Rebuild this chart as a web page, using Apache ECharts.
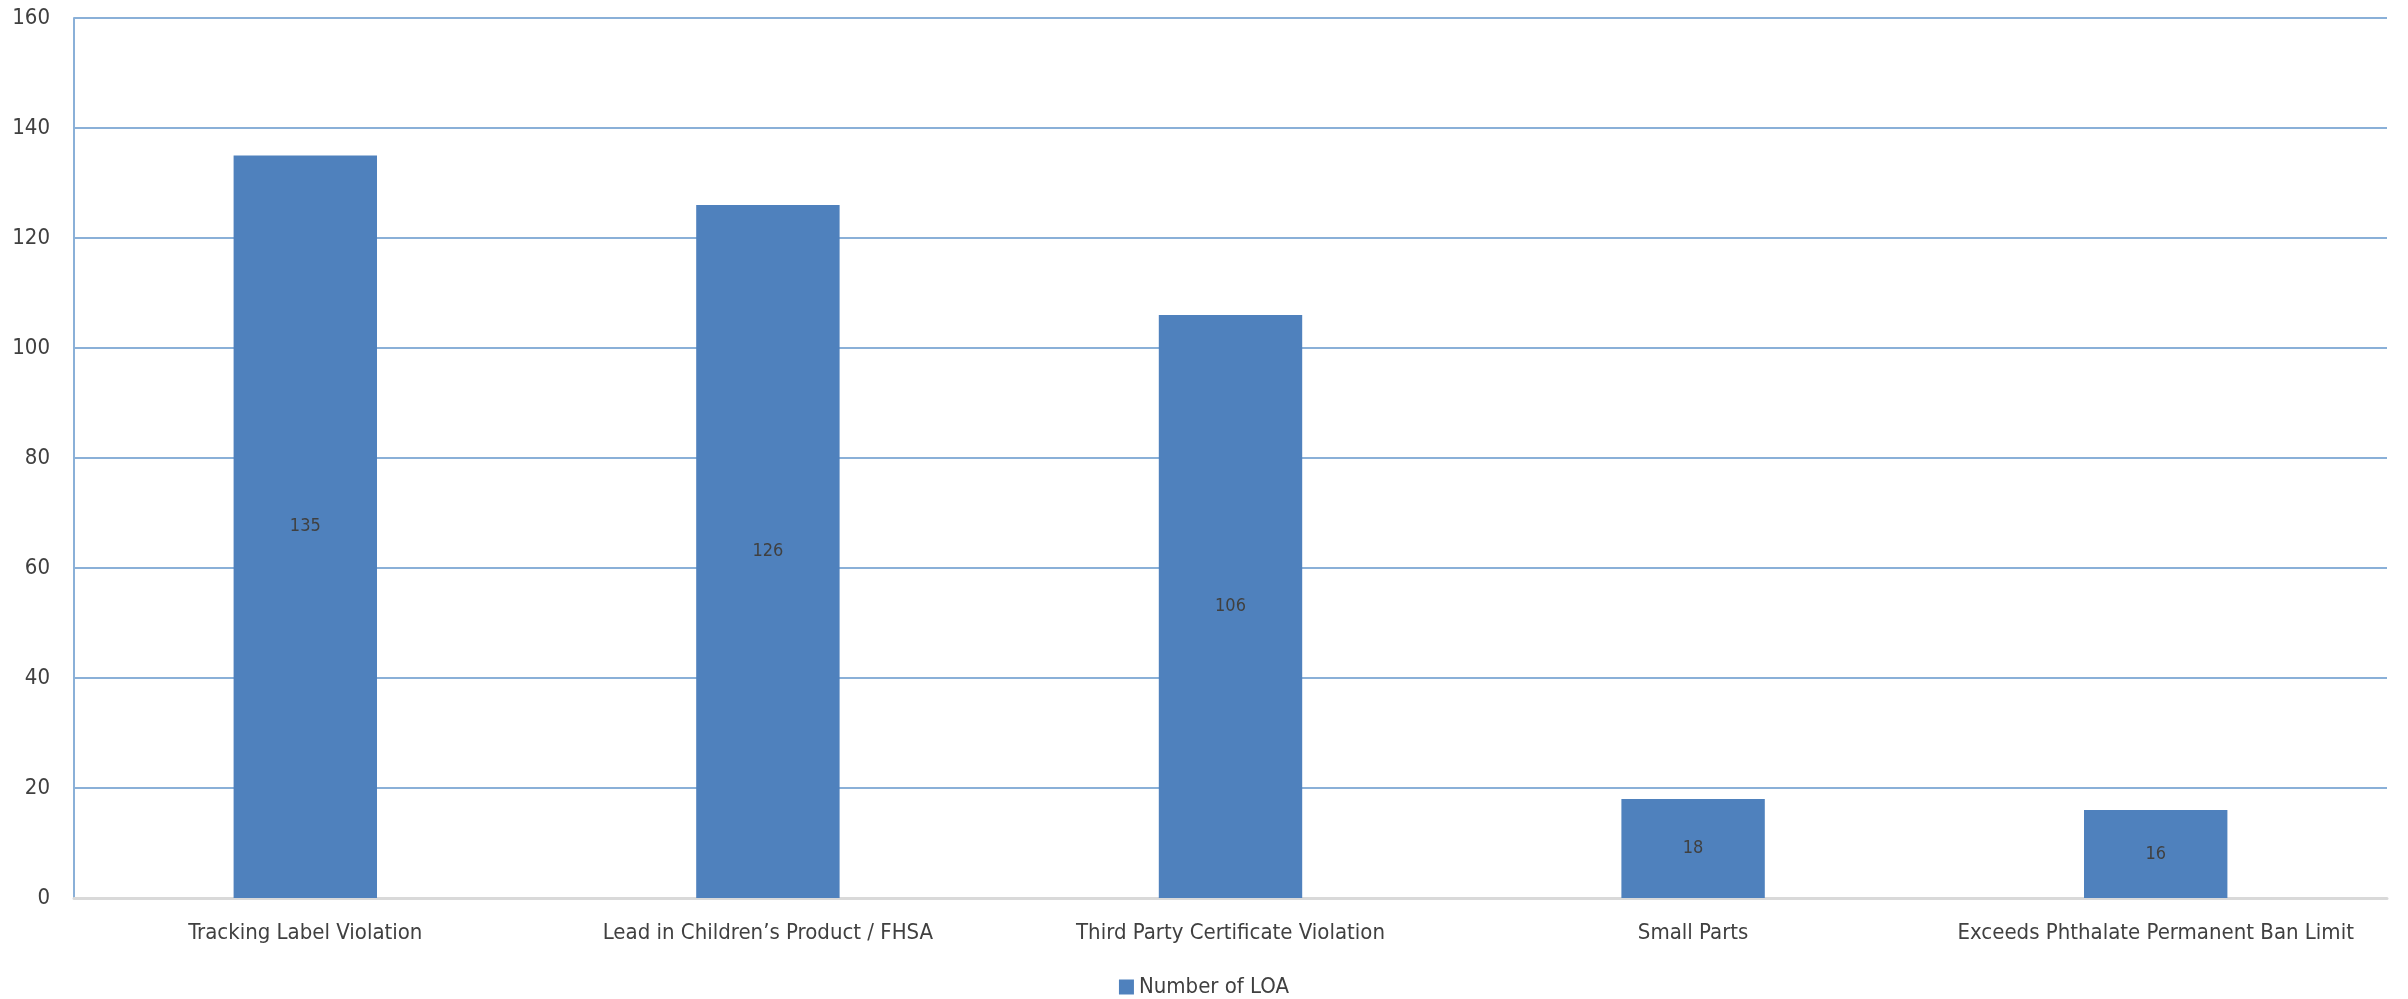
<!DOCTYPE html>
<html>
<head>
<meta charset="utf-8">
<script src="https://cdn.jsdelivr.net/npm/echarts@6/dist/echarts.min.js"></script>
<style>
  html, body { margin: 0; padding: 0; background: #fff; }
  #chart { width: 2408px; height: 999px; }
</style>
</head>
<body>
<div id="chart"></div>
<script>
// categories and values
const categories = [
  'Tracking Label Violation',
  'Lead in Children\u2019s Product / FHSA',
  'Third Party Certificate Violation',
  'Small Parts',
  'Exceeds Phthalate Permanent Ban Limit',
];
const loaValues = [135, 126, 106, 18, 16];
const seriesName = 'Number of LOA';

const font = '"Liberation Sans Narrow", "DejaVu Sans Condensed", "Arial Narrow", sans-serif';
const textColor = '#404040';
const gridColor = '#8ab0d8';

const myChart = echarts.init(document.getElementById('chart'));

const option = {
  animation: false,
  textStyle: { fontFamily: font },
  grid: {
    left: 74,
    right: 21,
    top: 18,
    bottom: 101,
  },
  legend: {
    data: [seriesName],
    left: 'center',
    top: 971,
    icon: 'rect',
    itemWidth: 15,
    itemHeight: 15,
    itemGap: 6,
    textStyle: { fontFamily: font, fontSize: 22, color: textColor },
  },
  xAxis: {
    type: 'category',
    data: categories,
    axisTick: { show: false },
    axisLine: { show: true, lineStyle: { color: '#d9d9d9', width: 3 } },
    axisLabel: {
      interval: 0,
      margin: 24,
      fontFamily: font,
      fontSize: 22,
      color: textColor,
    },
  },
  yAxis: {
    type: 'value',
    min: 0,
    max: 160,
    interval: 20,
    axisTick: { show: false },
    axisLine: { show: true, lineStyle: { color: gridColor, width: 2 } },
    splitLine: { lineStyle: { color: gridColor, width: 2 } },
    axisLabel: {
      margin: 24,
      fontFamily: font,
      fontSize: 22,
      color: textColor,
    },
  },
  series: [{
    name: seriesName,
    type: 'bar',
    data: loaValues,
    barWidth: '31%',
    itemStyle: { color: '#4f81bd' },
    label: {
      show: true,
      position: 'inside',
      fontFamily: font,
      fontSize: 18,
      color: textColor,
    },
  }],
};

myChart.setOption(option);
</script>
</body>
</html>
